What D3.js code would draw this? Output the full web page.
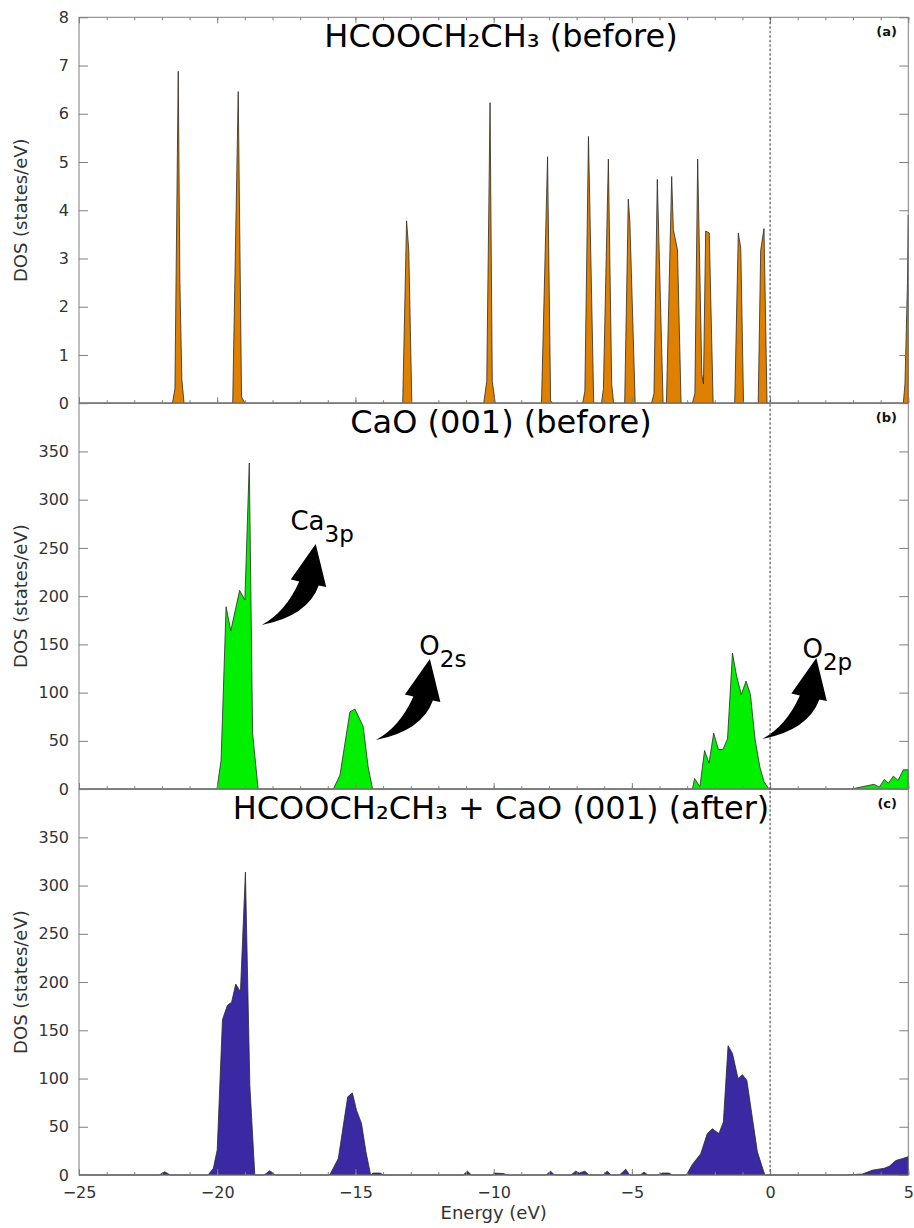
<!DOCTYPE html>
<html>
<head>
<meta charset="utf-8">
<script src="https://cdn.jsdelivr.net/npm/d3@7"></script>
<style>
  body { margin: 0; background: #fff; }
  svg { display: block; font-family: "DejaVu Sans", sans-serif; }
</style>
</head>
<body>
<div id="chart"></div>
<script>
// energy range and ticks (eV)
const energyDomain = [-25, 5];
const energyMajorTicks = [-25, -20, -15, -10, -5, 0, 5];
const energyMinorTicks = d3.range(-25, 6, 1);

// panel (a): HCOOCH2CH3 before, [energy, DOS]
const molDos = [
  [-25, 0], [-21.62, 0], [-21.53, 0.3], [-21.41, 6.88], [-21.35, 2.5], [-21.28, 0.5], [-21.2, 0],
  [-19.44, 0], [-19.24, 6.46], [-19.12, 0.13], [-19.0, 0],
  [-13.29, 0], [-13.15, 3.78], [-13.07, 3.17], [-12.96, 0],
  [-10.36, 0], [-10.25, 0.45], [-10.13, 6.23], [-10.05, 0.45], [-9.94, 0],
  [-8.27, 0], [-8.05, 5.11], [-7.94, 0.05], [-7.86, 0],
  [-6.78, 0], [-6.70, 0.25], [-6.57, 5.53], [-6.38, 0],
  [-6.1, 0], [-6.03, 0.3], [-5.85, 5.06], [-5.73, 0.4], [-5.66, 0],
  [-5.26, 0], [-5.13, 4.23], [-5.07, 3.73], [-4.88, 0],
  [-4.29, 0], [-4.2, 0.2], [-4.08, 4.64], [-3.87, 0],
  [-3.75, 0], [-3.56, 4.7], [-3.5, 3.6], [-3.35, 3.18], [-3.22, 0],
  [-2.81, 0], [-2.72, 0.2], [-2.62, 5.06], [-2.47, 0.6], [-2.44, 0.5], [-2.41, 0.4],
  [-2.33, 3.57], [-2.2, 3.53], [-2.06, 0],
  [-1.28, 0], [-1.15, 3.53], [-1.06, 3.21], [-0.96, 0],
  [-0.43, 0], [-0.34, 3.17], [-0.22, 3.62], [-0.11, 0],
  [4.82, 0], [4.88, 0.4], [4.97, 2.5], [5.0, 3.9]
];

// panel (b): CaO (001) before
const caoDos = [
  [-25, 0], [-20.01, 0], [-19.86, 30], [-19.68, 189], [-19.51, 164], [-19.19, 206], [-19.0, 196],
  [-18.84, 338], [-18.72, 58], [-18.52, 0],
  [-15.8, 0], [-15.56, 14.5], [-15.2, 80], [-15.02, 83], [-14.72, 65], [-14.54, 23], [-14.38, 0],
  [-2.81, 0], [-2.73, 11], [-2.54, 2.4], [-2.37, 40], [-2.21, 27], [-2.04, 58], [-1.87, 41],
  [-1.71, 41], [-1.54, 52], [-1.36, 141], [-1.21, 117], [-1.04, 98], [-0.87, 112], [-0.71, 98],
  [-0.54, 51], [-0.37, 23], [-0.22, 7.6], [-0.04, 0],
  [2.92, 0], [3.76, 5], [3.95, 2], [4.13, 10], [4.28, 6], [4.46, 13.5], [4.63, 9], [4.82, 20], [5, 20]
];

// panel (c): HCOOCH2CH3 + CaO (001) after
const adsDos = [
  [-25, 0], [-22.1, 0], [-21.9, 3.4], [-21.7, 0],
  [-20.33, 0], [-20.14, 7], [-20.0, 26], [-19.81, 161], [-19.63, 176], [-19.48, 179], [-19.33, 198],
  [-19.16, 190], [-18.98, 314], [-18.82, 93], [-18.64, 0],
  [-18.3, 0], [-18.1, 4.5], [-17.9, 0],
  [-15.93, 0], [-15.62, 17], [-15.28, 81], [-15.11, 85], [-14.96, 67], [-14.78, 53.5], [-14.62, 24],
  [-14.45, 0], [-14.36, 2], [-14.1, 2], [-14.0, 0],
  [-11.1, 0], [-10.95, 4], [-10.8, 0],
  [-10.05, 0], [-9.95, 2], [-9.65, 1.5], [-9.5, 0],
  [-8.1, 0], [-7.94, 4], [-7.8, 0],
  [-7.2, 0], [-7.03, 4], [-6.9, 2], [-6.7, 4], [-6.55, 0],
  [-6.05, 0], [-5.89, 4], [-5.75, 0],
  [-5.45, 0], [-5.22, 6], [-5.08, 0],
  [-4.7, 0], [-4.56, 3], [-4.42, 0],
  [-4.05, 0], [-3.9, 2], [-3.65, 2], [-3.55, 0],
  [-3.03, 0], [-2.81, 11], [-2.51, 22], [-2.27, 43], [-2.09, 48], [-1.85, 43], [-1.69, 55],
  [-1.52, 134], [-1.36, 126], [-1.16, 100], [-1.0, 104], [-0.84, 98], [-0.64, 59], [-0.46, 24], [-0.19, 0],
  [2.74, 0], [3.34, 1], [3.7, 5], [4.13, 7], [4.31, 9], [4.55, 15], [4.79, 17], [5.0, 19]
];

const panelTitles = ["HCOOCH\u2082CH\u2083 (before)", "CaO (001) (before)", "HCOOCH\u2082CH\u2083 + CaO (001) (after)"];
const panelTags = ["(a)", "(b)", "(c)"];
const panelColors = ["#df8000", "#00f000", "#3b28a3"];
const panelYMax = [8, 400, 400];
const panelYTicks = [d3.range(0, 9, 1), d3.range(0, 351, 50), d3.range(0, 351, 50)];

// orbital annotations on panel (b): label anchor and arrow tail, in data units
const orbitalLabels = [
  { main: "Ca", sub: "3p", labelE: -17.35, labelV: 269, tailE: -18.39, tailV: 170 },
  { main: "O",  sub: "2s", labelE: -12.69, labelV: 139, tailE: -14.26, tailV: 51 },
  { main: "O",  sub: "2p", labelE: 1.17,   labelV: 136, tailE: -0.28,  tailV: 52 }
];

const W = 914, H = 1228;
const plotLeft = 79, plotRight = 908.3, plotTop = 17.3, panelH = 385.9;
const frameColor = "#7f7f7f", textColor = "#333";

const svg = d3.select("#chart").append("svg")
  .attr("width", W)
  .attr("height", H);

const x = d3.scaleLinear().domain(energyDomain).range([plotLeft, plotRight]);

const series = [molDos, caoDos, adsDos];

series.forEach((data, i) => {
  const y0 = plotTop + i * panelH;
  const y = d3.scaleLinear().domain([0, panelYMax[i]]).range([y0 + panelH, y0]);
  const g = svg.append("g");

  const area = d3.area()
    .x(d => x(d[0]))
    .y0(y(0))
    .y1(d => y(d[1]));

  g.append("path")
    .datum(data)
    .attr("d", area)
    .attr("fill", panelColors[i])
    .attr("stroke", "#2a2a2a")
    .attr("stroke-width", 0.8)
    .attr("stroke-linejoin", "round");

  // left axis, ticks inward
  const yl = g.append("g")
    .attr("transform", "translate(" + plotLeft + ",0)")
    .call(d3.axisLeft(y).tickValues(panelYTicks[i]).tickSize(-9).tickPadding(10));
  yl.select(".domain").remove();
  yl.selectAll("line").attr("stroke", frameColor);
  yl.selectAll("text").attr("fill", textColor).attr("font-size", 16)
    .attr("font-family", "DejaVu Sans");

  // right axis
  const yr = g.append("g")
    .attr("transform", "translate(" + plotRight + ",0)")
    .call(d3.axisRight(y).tickValues(panelYTicks[i]).tickSize(-9).tickFormat(""));
  yr.select(".domain").remove();
  yr.selectAll("line").attr("stroke", frameColor);

  // bottom ticks, inward
  const xb = g.append("g").attr("transform", "translate(0," + (y0 + panelH) + ")");
  xb.call(d3.axisBottom(x).tickValues(energyMinorTicks).tickSize(-3).tickFormat(""));
  xb.append("g").call(d3.axisBottom(x).tickValues(energyMajorTicks).tickSize(-6)
    .tickPadding(12).tickFormat(i === 2 ? d3.format("d") : ""));
  xb.selectAll(".domain").remove();
  xb.selectAll("line").attr("stroke", frameColor);
  xb.selectAll("text").attr("fill", textColor).attr("font-size", 16)
    .attr("font-family", "DejaVu Sans");

  if (i === 0) {
    const xt = g.append("g").attr("transform", "translate(0," + y0 + ")");
    xt.call(d3.axisTop(x).tickValues(energyMinorTicks).tickSize(-3).tickFormat(""));
    xt.append("g").call(d3.axisTop(x).tickValues(energyMajorTicks).tickSize(-6).tickFormat(""));
    xt.selectAll(".domain").remove();
    xt.selectAll("line").attr("stroke", frameColor);
  }

  // frame
  g.append("rect")
    .attr("x", plotLeft).attr("y", y0)
    .attr("width", plotRight - plotLeft).attr("height", panelH)
    .attr("fill", "none").attr("stroke", frameColor).attr("stroke-width", 1);

  // y label
  g.append("text")
    .attr("transform", "translate(21," + (y0 + panelH / 2) + ") rotate(-90)")
    .attr("text-anchor", "middle")
    .attr("dy", "0.35em")
    .attr("font-size", 18)
    .attr("fill", textColor)
    .text("DOS (states/eV)");

  // panel title
  g.append("text")
    .attr("x", 501).attr("y", y0 + 30)
    .attr("text-anchor", "middle")
    .attr("font-size", 32)
    .attr("fill", "#000")
    .text(panelTitles[i]);

  g.append("text")
    .attr("x", 897).attr("y", y0 + 19)
    .attr("text-anchor", "end")
    .attr("font-size", 13)
    .attr("font-weight", "bold")
    .attr("fill", "#111")
    .text(panelTags[i]);

  if (i === 1) {
    orbitalLabels.forEach(a => {
      const tx = x(a.tailE), ty = y(a.tailV);
      g.append("path")
        .attr("transform", "translate(" + tx + "," + ty + ")")
        .attr("d", "M0,0 Q46,-9 57,-39.5 L64.5,-38 L54,-81 L29,-45.5 L37.5,-43.5 Q24,-13 0,0 Z")
        .attr("fill", "#000");
      const t = g.append("text")
        .attr("x", x(a.labelE)).attr("y", y(a.labelV))
        .attr("font-size", 26)
        .attr("fill", "#000");
      t.append("tspan").text(a.main);
      t.append("tspan").attr("dy", 12).attr("font-size", 23).text(a.sub);
    });
  }
});

// Fermi level
svg.append("line")
  .attr("x1", x(0)).attr("x2", x(0))
  .attr("y1", plotTop).attr("y2", plotTop + 3 * panelH)
  .attr("stroke", "#555")
  .attr("stroke-width", 1.2)
  .attr("stroke-dasharray", "2.5,2");

svg.append("text")
  .attr("x", (plotLeft + plotRight) / 2).attr("y", 1219)
  .attr("text-anchor", "middle")
  .attr("font-size", 18)
  .attr("fill", textColor)
  .text("Energy (eV)");
</script>
</body>
</html>
